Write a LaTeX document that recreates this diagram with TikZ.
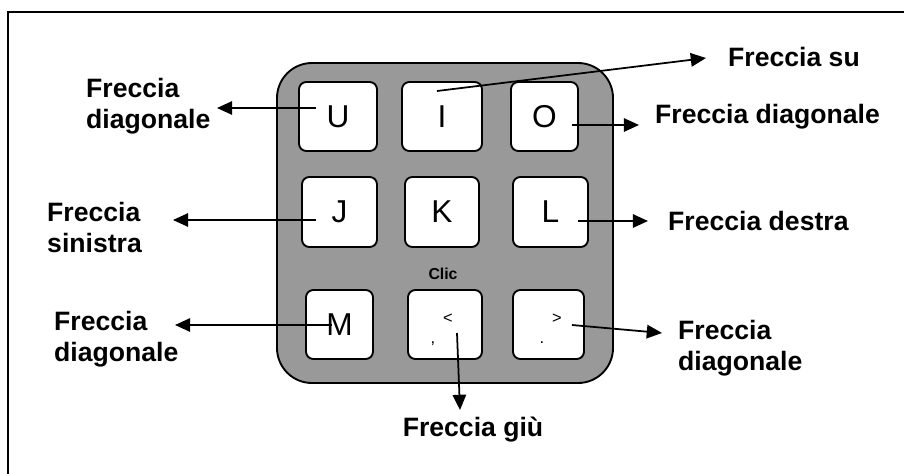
\documentclass[tikz,border=0pt]{standalone}
\usepackage{fontspec}
\setmainfont{Liberation Sans}
\usetikzlibrary{arrows.meta}

\definecolor{panelgray}{RGB}{153,153,153}

\tikzset{
  key/.style={draw, fill=white, rounded corners=0.22cm, line width=1.6pt,
    minimum height=2.07cm, inner sep=0pt, font=\fontsize{27}{30}\selectfont},
  lbl/.style={anchor=west, align=left, inner sep=0pt,
    font=\fontsize{22.7}{27}\selectfont\bfseries},
  sym/.style={inner sep=0pt, font=\fontsize{14}{16}\selectfont},
  arr/.style={line width=1.5pt, -{Triangle[length=13pt,width=11.5pt]}}
}

\begin{document}
\begin{tikzpicture}[x=0.03cm, y=-0.03cm]
\useasboundingbox (0,0) rectangle (904,473);

% frame
\draw[line width=1.6pt] (8,12) rectangle (920,490);

% keypad
\draw[line width=1.6pt, fill=panelgray, rounded corners=1.05cm] (277,63) rectangle (613,383);

\node at (338,116.5) (kU)[key, minimum width=2.34cm] {U};
\node at (442,116.5) (kI)[key, minimum width=2.40cm] {I};
\node at (544.5,116.5) (kO)[key, minimum width=2.01cm] {O};

\node at (339.5,212) (kJ)[key, minimum width=2.25cm, minimum height=2.10cm] {J};
\node at (442,212) (kK)[key, minimum width=2.22cm, minimum height=2.10cm] {K};
\node at (550.5,212) (kL)[key, minimum width=2.25cm, minimum height=2.10cm] {L};

\node at (339.5,324.5) (kM)[key, minimum width=2.01cm] {M};
\node at (445,324.5) (kComma)[key, minimum width=2.22cm] {};
\node at (548.5,324.5) (kPeriod)[key, minimum width=2.13cm] {};

% small signs on the last two keys
\node at (448,319) (lt)[sym] {<};
\node at (433,344) (comma)[sym] {,};
\node at (557,319) (gt)[sym] {>};
\node at (542,343) (period)[sym] {.};

\node at (443,274) (clic)[font=\fontsize{13.5}{15}\selectfont\bfseries] {Clic};

% labels
\node at (86,106) (lU)[lbl] {Freccia\\diagonale};
\node at (47,227.5) (lJ)[lbl] {Freccia\\sinistra};
\node at (54,339) (lM)[lbl] {Freccia\\diagonale};
\node at (728,57) (lI)[lbl] {Freccia su};
\node at (655,117) (lO)[lbl] {Freccia diagonale};
\node at (668,221) (lL)[lbl] {Freccia destra};
\node at (678,348) (lPeriod)[lbl] {Freccia\\diagonale};
\node at (473,430) (lComma)[lbl, anchor=center] {Freccia giù};

% arrow ends
\coordinate (sU) at (316,108);
\coordinate (tU) at (217,108);
\coordinate (sJ) at (316,220);
\coordinate (tJ) at (173,220);
\coordinate (sM) at (332,325);
\coordinate (tM) at (175,325);
\coordinate (sI) at (437,91);
\coordinate (tI) at (706,58);
\coordinate (sO) at (572,125);
\coordinate (tO) at (639,125);
\coordinate (sL) at (578,221);
\coordinate (tL) at (648,221);
\coordinate (sPeriod) at (572,325);
\coordinate (tPeriod) at (662,333);
\coordinate (sComma) at (457,333);
\coordinate (tComma) at (460,410);

\draw[arr] (sU) -- (tU);
\draw[arr] (sJ) -- (tJ);
\draw[arr] (sM) -- (tM);
\draw[arr] (sI) -- (tI);
\draw[arr] (sO) -- (tO);
\draw[arr] (sL) -- (tL);
\draw[arr] (sPeriod) -- (tPeriod);
\draw[arr] (sComma) -- (tComma);
\end{tikzpicture}
\end{document}
